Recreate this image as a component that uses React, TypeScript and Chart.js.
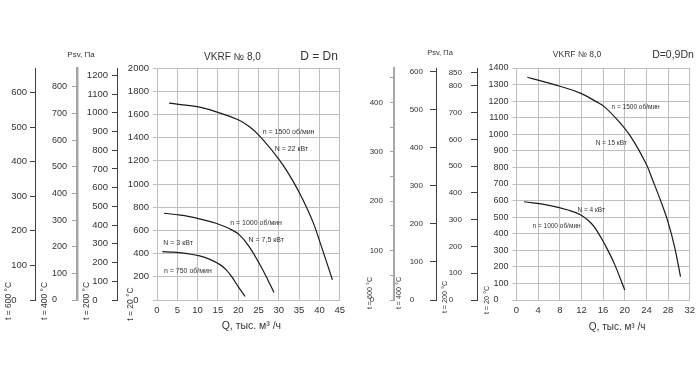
import React, { useEffect, useRef } from 'react';
import { Chart, registerables } from 'chart.js';
Chart.register(...registerables);

// ---------- DATA ----------
// Left panel (D = Dn), main axis t = 20 °C
const L_Q_1500 = [3, 7, 10.5, 15, 20, 22.7, 25, 28.5, 31, 33.5, 36, 38.5, 40.5, 43.2];
const L_P_1500 = [1698, 1680, 1662, 1618, 1554, 1496, 1424, 1282, 1165, 1025, 860, 665, 460, 175];
const L_Q_1000 = [1.7, 5, 8, 11, 14.5, 18, 20.3, 22.7, 25.5, 27.3, 28.8];
const L_P_1000 = [748, 735, 719, 695, 662, 612, 561, 460, 295, 173, 65];
const L_Q_750 = [1.3, 4, 7.9, 10.5, 13, 15.5, 17, 18.4, 20, 21.7];
const L_P_750 = [417, 412, 397, 380, 350, 305, 262, 201, 115, 30];

const L_NOTE_TEXT = ['n = 1500 об/мин', 'N = 22 кВт', 'n = 1000 об/мин', 'N = 7,5 кВт', 'N = 3 кВт', 'n = 750 об/мин'];
const L_NOTE_Q = [32.4, 33.1, 24.4, 26.9, 5.2, 7.6];
const L_NOTE_P = [1444, 1301, 662, 518, 495, 253];

const L_X_MAX = 45;
const L_X_STEP = 5;
const L_Y_MAX = 2000;
const L_Y_STEP = 200;
const L_T200_MAX = 1239;
const L_T200_TICKS = [0, 100, 200, 300, 400, 500, 600, 700, 800, 900, 1000, 1100, 1200];
const L_T400_MAX = 871;
const L_T400_TICKS = [0, 100, 200, 300, 400, 500, 600, 700, 800];
const L_T600_MAX = 671;
const L_T600_TICKS = [0, 100, 200, 300, 400, 500, 600];

// Right panel (D = 0,9Dn)
const R_Q_1500 = [2, 5, 8, 11.9, 14.7, 16.2, 18.6, 21.1, 23.9, 25.2, 26.5, 28, 29.2, 30.3];
const R_P_1500 = [1344, 1318, 1290, 1247, 1197, 1167, 1088, 986, 825, 720, 610, 470, 320, 141];
const R_Q_1000 = [1.4, 5.8, 9.5, 11.9, 13.8, 15, 16.2, 18.05, 20.0];
const R_P_1000 = [593, 573, 543, 513, 463, 410, 342, 221, 60];

const R_NOTE_TEXT = ['n = 1500 об/мин', 'N = 15 кВт', 'N = 4 кВт', 'n = 1000 об/мин'];
const R_NOTE_Q = [22.0, 17.5, 13.8, 7.4];
const R_NOTE_P = [1163, 946, 543, 447];

const R_X_MAX = 32;
const R_X_STEP = 4;
const R_Y_MAX = 1400;
const R_Y_STEP = 100;
const R_T200_MAX = 867;
const R_T200_TICKS = [0, 100, 200, 300, 400, 500, 600, 700, 800, 850];
const R_T400_MAX = 609.5;
const R_T400_TICKS = [0, 100, 200, 300, 400, 500, 600];
const R_T600_MAX = 470;
const R_T600_TICKS = [0, 50, 100, 150, 200, 250, 300, 350, 400, 450];
const R_T600_LABELS = [0, 100, 200, 300, 400];

const TEMP_LABELS = ['t = 20 °C', 't = 200 °C', 't = 400 °C', 't = 600 °C'];
const X_TITLE = 'Q, тыс. м³ /ч';
const Y_TITLE = 'Psv, Па';
const MODEL = 'VKRF № 8,0';
const L_DIAM = 'D = Dn';
const R_DIAM = 'D=0,9Dn';

// ---------- STYLE ----------
const FONT = 'Liberation Sans, Arial, sans-serif';
const TXT = '#333333';
const GRID = '#bfbfbf';
const AXIS = '#404040';

const fmt = (v: number) => (v === 0 ? '0    ' : String(v));

function pts(q: number[], p: number[]) {
  return q.map((x, i) => ({ x, y: p[i] }));
}

function secAxis(o: any) {
  return {
    type: 'linear',
    position: 'left',
    min: 0,
    max: o.max,
    weight: o.weight,
    afterFit: (s: any) => { s.width = o.width; },
    afterBuildTicks: (s: any) => { s.ticks = o.ticks.map((v: number) => ({ value: v })); },
    grid: { drawOnChartArea: false, drawTicks: true, tickLength: o.tickLen, color: o.color, lineWidth: 1 },
    border: { display: true, color: o.color, width: o.lineW },
    ticks: {
      autoSkip: false,
      padding: o.pad,
      color: TXT,
      font: { family: FONT, size: o.size },
      callback: (v: number) => (o.labels ? (o.labels.includes(v) ? fmt(v) : '') : fmt(v)),
    },
  };
}

function makePlugin(p: any) {
  return {
    id: 'extraText',
    afterDraw(chart: any) {
      const ctx = chart.ctx;
      const xs = chart.scales.x;
      const ys = chart.scales.y;
      const area = chart.chartArea;
      ctx.save();
      ctx.fillStyle = TXT;
      ctx.textAlign = 'center';
      ctx.textBaseline = 'middle';
      // curve annotations
      ctx.font = `${p.noteSize}px ${FONT}`;
      p.notes.text.forEach((t: string, i: number) => {
        ctx.fillText(t, xs.getPixelForValue(p.notes.q[i]), ys.getPixelForValue(p.notes.p[i]));
      });
      // titles
      ctx.font = `${p.psvSize}px ${FONT}`;
      ctx.fillText(Y_TITLE, p.psvX, p.psvY);
      ctx.font = `${p.modelSize}px ${FONT}`;
      ctx.fillText(MODEL, p.modelX, p.modelY);
      ctx.font = `${p.diamSize}px ${FONT}`;
      ctx.fillText(p.diam, p.diamX, p.diamY);
      ctx.font = `${p.xTitleSize}px ${FONT}`;
      ctx.fillText(X_TITLE, (area.left + area.right) / 2 + p.xTitleDx, p.xTitleY);
      // rotated temperature labels
      ctx.font = `${p.tempSize}px ${FONT}`;
      const ids = ['y', 'y200', 'y400', 'y600'];
      ids.forEach((id, i) => {
        const s = chart.scales[id];
        ctx.save();
        ctx.translate(s.right - p.tempOff[i], p.tempY[i]);
        ctx.rotate(-Math.PI / 2);
        ctx.fillText(TEMP_LABELS[i], 0, 0);
        ctx.restore();
      });
      ctx.restore();
    },
  };
}

function buildConfig(p: any): any {
  return {
    type: 'line',
    data: {
      datasets: p.series.map((d: any) => ({
        data: d,
        borderColor: '#1a1a1a',
        borderWidth: 1.2,
        pointRadius: 0,
        fill: false,
        tension: 0.4,
        yAxisID: 'y',
      })),
    },
    options: {
      responsive: true,
      maintainAspectRatio: false,
      animation: false,
      events: [],
      layout: { padding: { top: 68, right: p.padRight, bottom: 0, left: 0 } },
      plugins: { legend: { display: false }, tooltip: { enabled: false }, title: { display: false } },
      scales: {
        x: {
          type: 'linear',
          position: 'bottom',
          min: 0,
          max: p.xMax,
          afterFit: (s: any) => { s.height = 82; },
          grid: { color: GRID, lineWidth: 1, drawTicks: false },
          border: { color: GRID },
          ticks: { stepSize: p.xStep, padding: 5, color: TXT, font: { family: FONT, size: 9.5 }, maxRotation: 0 },
        },
        y: {
          type: 'linear',
          position: 'left',
          min: 0,
          max: p.yMax,
          weight: 0,
          afterFit: (s: any) => { s.width = p.widths[0]; },
          grid: { color: GRID, lineWidth: 1, drawTicks: true, tickLength: 4 },
          border: { color: GRID },
          ticks: { stepSize: p.yStep, padding: 4, color: TXT, font: { family: FONT, size: p.mainSize }, callback: (v: number) => fmt(v) },
        },
        y200: secAxis({ ...p.t200, weight: 1, width: p.widths[1] }),
        y400: secAxis({ ...p.t400, weight: 2, width: p.widths[2] }),
        y600: secAxis({ ...p.t600, weight: 3, width: p.widths[3] }),
      },
    },
    plugins: [makePlugin(p)],
  };
}

const LEFT = {
  series: [pts(L_Q_1500, L_P_1500), pts(L_Q_1000, L_P_1000), pts(L_Q_750, L_P_750)],
  notes: { text: L_NOTE_TEXT, q: L_NOTE_Q, p: L_NOTE_P },
  xMax: L_X_MAX, xStep: L_X_STEP, yMax: L_Y_MAX, yStep: L_Y_STEP,
  padRight: 10,
  widths: [40, 40, 42, 35],
  mainSize: 9.5,
  t200: { max: L_T200_MAX, ticks: L_T200_TICKS, tickLen: 5, pad: 4, size: 9.5, color: AXIS, lineW: 1 },
  t400: { max: L_T400_MAX, ticks: L_T400_TICKS, tickLen: 5, pad: 5, size: 9, color: '#a6a6a6', lineW: 2.5 },
  t600: { max: L_T600_MAX, ticks: L_T600_TICKS, tickLen: 5, pad: 3, size: 9.5, color: AXIS, lineW: 1 },
  noteSize: 7,
  psvSize: 8, psvX: 81, psvY: 55,
  modelSize: 10, modelX: 232.5, modelY: 57,
  diam: L_DIAM, diamSize: 12, diamX: 319, diamY: 57,
  xTitleSize: 10.5, xTitleDx: 3, xTitleY: 326,
  tempSize: 8.5,
  tempOff: [26.5, 30.5, 32, 26.5],
  tempY: [304, 301, 301, 301],
};

const RIGHT = {
  series: [pts(R_Q_1500, R_P_1500), pts(R_Q_1000, R_P_1000)],
  notes: { text: R_NOTE_TEXT, q: R_NOTE_Q, p: R_NOTE_P },
  xMax: R_X_MAX, xStep: R_X_STEP, yMax: R_Y_MAX, yStep: R_Y_STEP,
  padRight: 9,
  widths: [39.5, 41, 42, 44],
  mainSize: 9,
  t200: { max: R_T200_MAX, ticks: R_T200_TICKS, tickLen: 6, pad: 9, size: 8, color: AXIS, lineW: 1 },
  t400: { max: R_T400_MAX, ticks: R_T400_TICKS, tickLen: 6, pad: 7, size: 8, color: AXIS, lineW: 1 },
  t600: { max: R_T600_MAX, ticks: R_T600_TICKS, labels: R_T600_LABELS, tickLen: 4, pad: 7, size: 8, color: '#a6a6a6', lineW: 2 },
  noteSize: 6.5,
  psvSize: 7.5, psvX: 90, psvY: 53,
  modelSize: 8.5, modelX: 227, modelY: 55,
  diam: R_DIAM, diamSize: 10.5, diamX: 323, diamY: 55,
  xTitleSize: 10, xTitleDx: 14, xTitleY: 327,
  tempSize: 7.2,
  tempOff: [29, 31.5, 36.5, 23.5],
  tempY: [300, 297, 293, 293],
};

export default function App() {
  const leftRef = useRef<HTMLCanvasElement>(null);
  const rightRef = useRef<HTMLCanvasElement>(null);
  useEffect(() => {
    const c1 = new Chart(leftRef.current as HTMLCanvasElement, buildConfig(LEFT));
    const c2 = new Chart(rightRef.current as HTMLCanvasElement, buildConfig(RIGHT));
    return () => {
      c1.destroy();
      c2.destroy();
    };
  }, []);
  return (
    <div style={{ position: 'absolute', left: 0, top: 0, width: 700, height: 382, background: '#ffffff' }}>
      <div style={{ position: 'absolute', left: 0, top: 0, width: 350, height: 382 }}>
        <canvas ref={leftRef} />
      </div>
      <div style={{ position: 'absolute', left: 350, top: 0, width: 350, height: 382 }}>
        <canvas ref={rightRef} />
      </div>
    </div>
  );
}
